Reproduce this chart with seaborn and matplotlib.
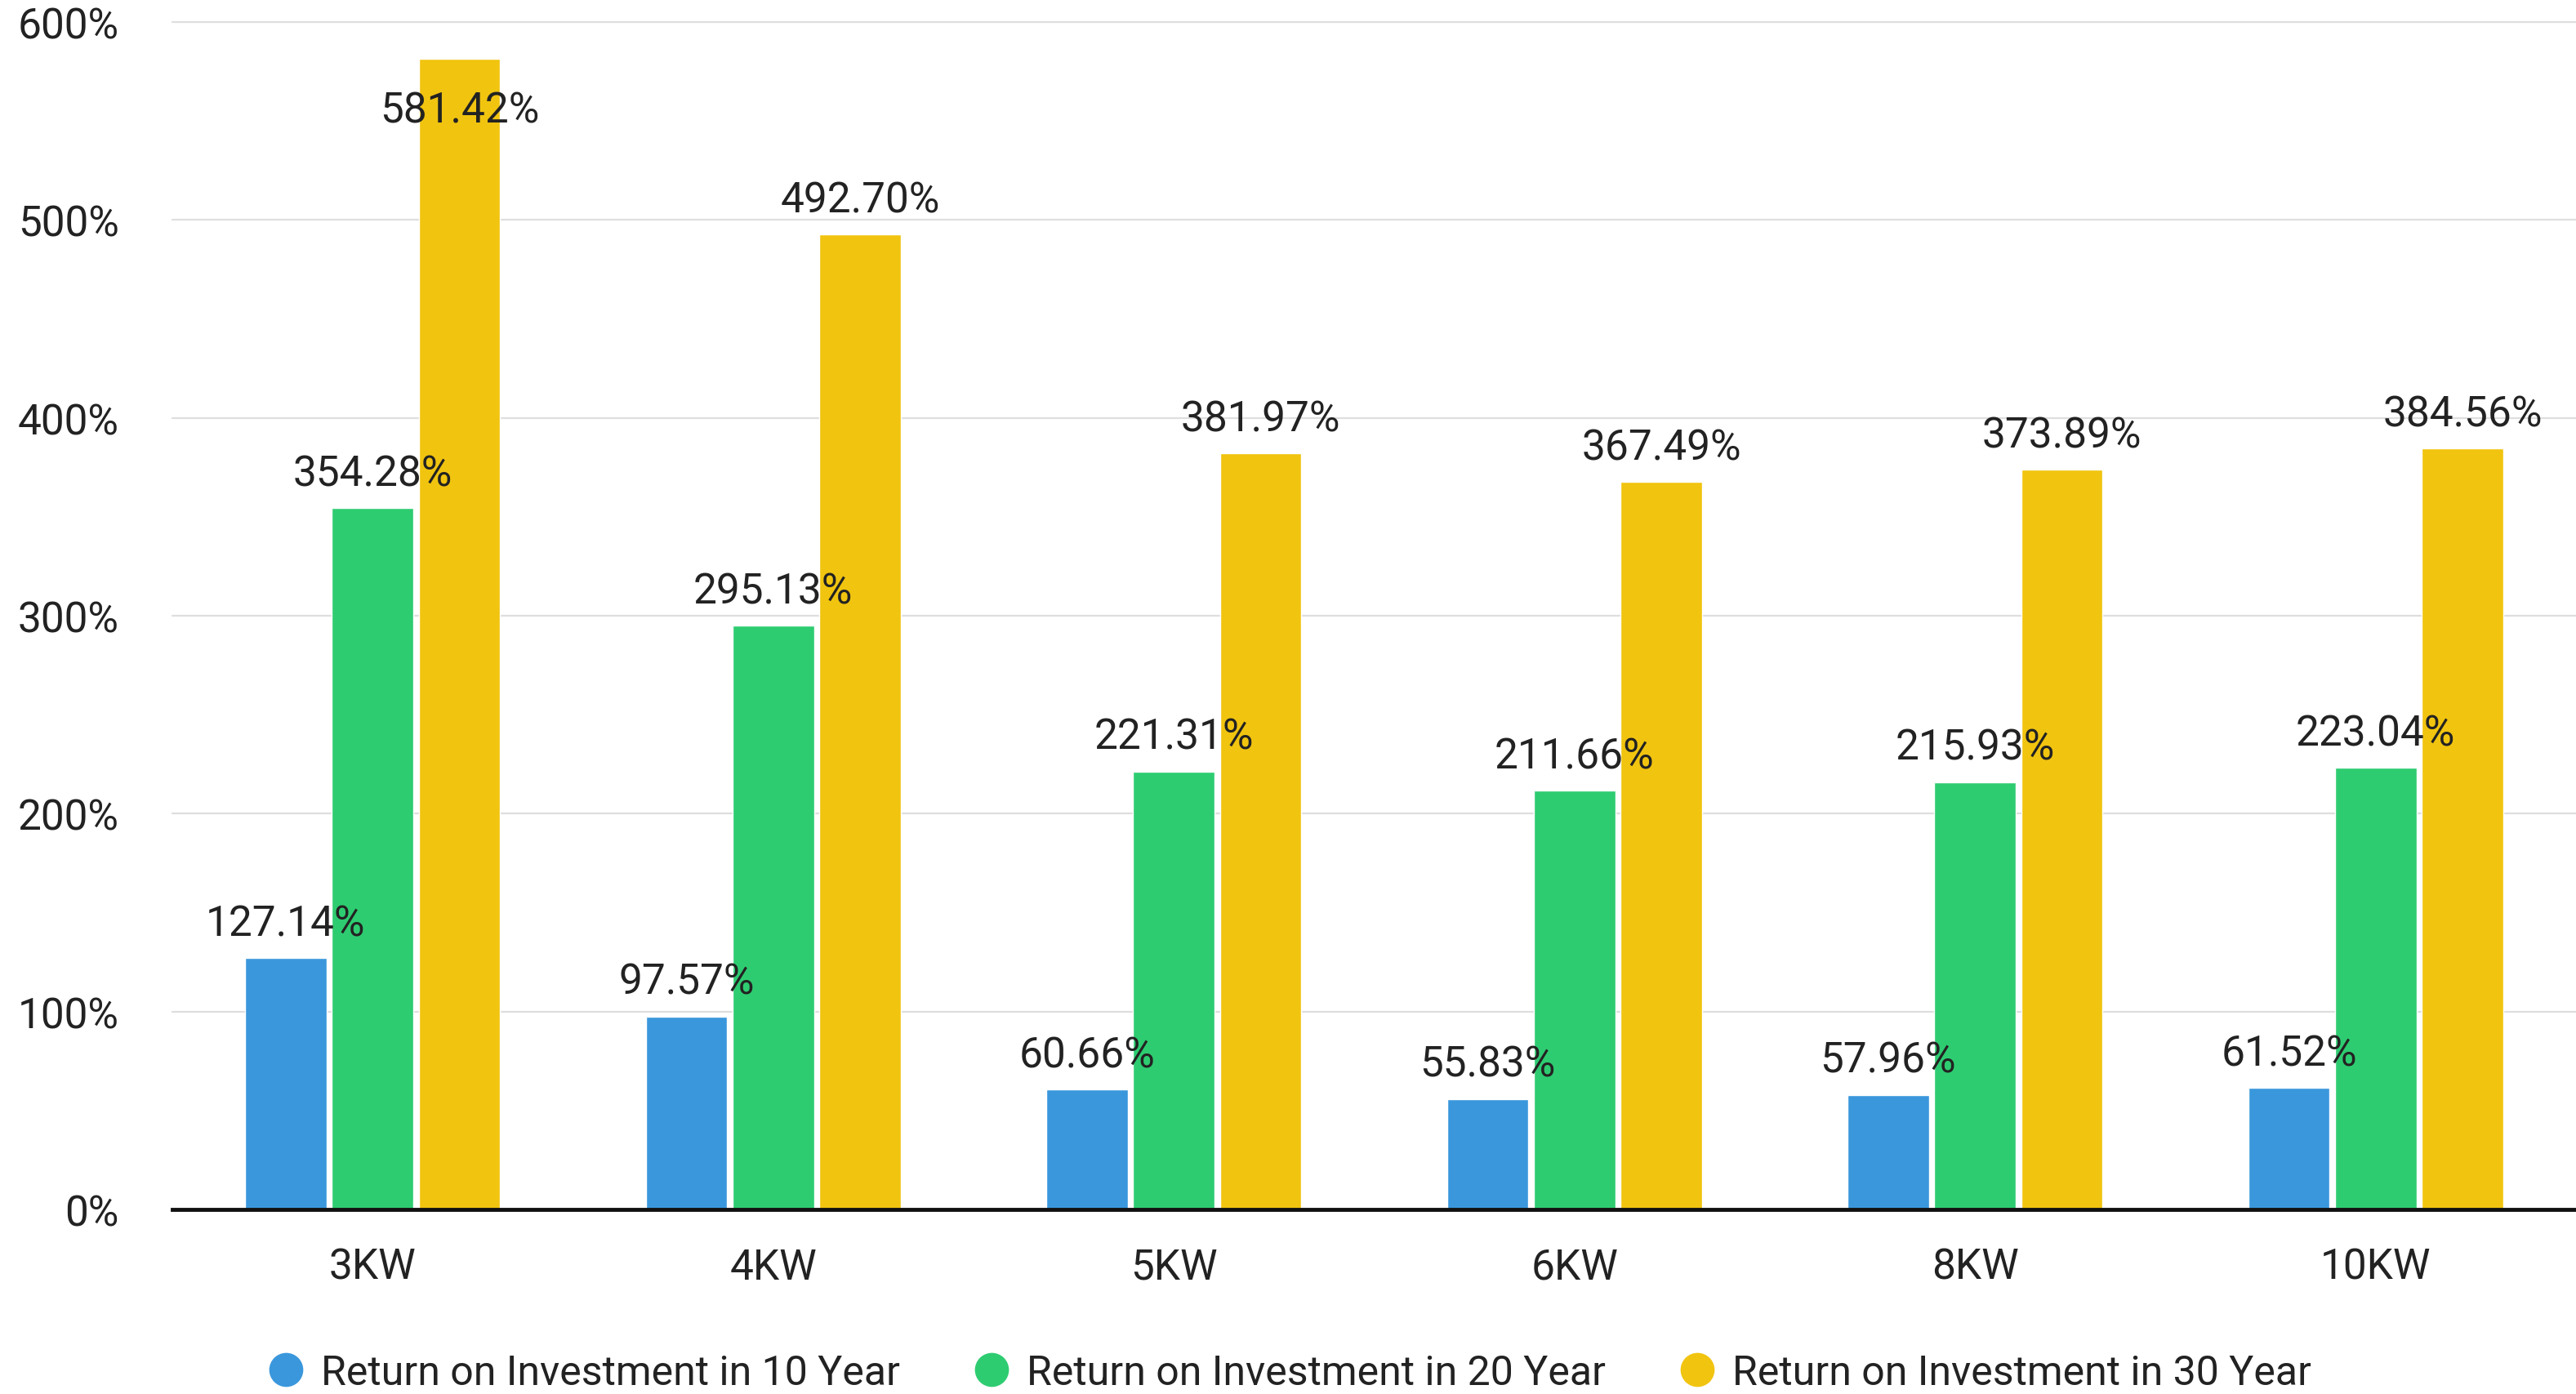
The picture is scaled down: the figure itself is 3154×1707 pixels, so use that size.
import matplotlib
matplotlib.use("Agg")
import matplotlib.pyplot as plt
from matplotlib.lines import Line2D
import pandas as pd
import seaborn as sns

# System sizes and return-on-investment figures (%)
systems = ["3KW", "4KW", "5KW", "6KW", "8KW", "10KW"]
roi_10_year = [127.14, 97.57, 60.66, 55.83, 57.96, 61.52]
roi_20_year = [354.28, 295.13, 221.31, 211.66, 215.93, 223.04]
roi_30_year = [581.42, 492.70, 381.97, 367.49, 373.89, 384.56]
series_names = [
    "Return on Investment in 10 Year",
    "Return on Investment in 20 Year",
    "Return on Investment in 30 Year",
]
series_colors = ["#3a97dc", "#2ecc71", "#f1c40f"]
y_ticks = [0, 100, 200, 300, 400, 500, 600]

rows = []
for name, values in zip(series_names, [roi_10_year, roi_20_year, roi_30_year]):
    for system, v in zip(systems, values):
        rows.append({"system": system, "series": name, "roi": v})
df = pd.DataFrame(rows)

sns.set_theme(style="white")
plt.rcParams["font.family"] = ["Roboto", "DejaVu Sans"]

text_color = "#222222"
fs = 37

fig = plt.figure(figsize=(31.54, 17.08), dpi=100)
ax = fig.add_axes([211 / 3154, 1 - 1482 / 1708, 1 - 211 / 3154, (1482 - 28) / 1708])

sns.barplot(
    data=df, x="system", y="roi", hue="series",
    order=systems, hue_order=series_names,
    palette=series_colors, width=0.65, gap=0.06,
    saturation=1, errorbar=None, legend=False, ax=ax,
)

ax.set_xlim(-0.5, len(systems) - 0.5)
ax.set_ylim(0, 600)
ax.set_yticks(y_ticks)
ax.set_yticklabels([f"{t}%" for t in y_ticks])
ax.set_xlabel("")
ax.set_ylabel("")

for side in ["left", "right", "top"]:
    ax.spines[side].set_visible(False)
ax.spines["bottom"].set_color("#111111")
ax.spines["bottom"].set_linewidth(3.5)
ax.spines["bottom"].set_zorder(5)

ax.yaxis.grid(True, color="#dedede", linewidth=1.6, clip_on=False)
ax.xaxis.grid(False)
ax.set_axisbelow(True)
ax.tick_params(axis="y", length=0, pad=47, labelsize=fs, labelcolor=text_color)
ax.tick_params(axis="x", length=0, pad=33, labelsize=fs, labelcolor=text_color)

# Value labels above each bar; labels that would run past the top go inside
y_top = ax.get_ylim()[1]
for container in ax.containers:
    for bar, value in zip(container, container.datavalues):
        cx = bar.get_x() + bar.get_width() / 2
        if value + 35 > y_top:
            offset = -56
        else:
            offset = 20
        ax.annotate(
            f"{value:.2f}%", xy=(cx, value), xytext=(0, offset),
            textcoords="offset points", ha="center", va="baseline",
            fontsize=fs, color=text_color, zorder=6,
        )

handles = [
    Line2D([0], [0], marker="o", linestyle="none", markersize=29,
           markerfacecolor=c, markeredgecolor=c)
    for c in series_colors
]
fig.legend(
    handles, series_names, loc="center", bbox_to_anchor=(0.501, 0.0155),
    ncol=3, frameon=False, fontsize=36, labelcolor=text_color,
    handlelength=0.8, handletextpad=0.45, columnspacing=1.85,
)

fig.savefig("out.png", dpi=100)
